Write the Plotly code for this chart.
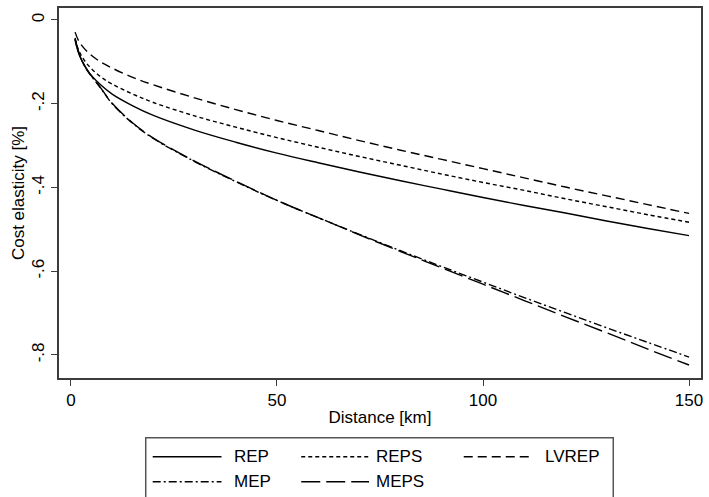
import plotly.graph_objects as go

# ---------------- data ----------------
distance = [1, 2, 4, 7, 10, 15, 20, 30, 40, 50, 60, 70, 80, 90, 100, 110, 120, 130, 140, 150]
rep   = [-0.048, -0.083, -0.121, -0.153, -0.177, -0.205, -0.228, -0.263, -0.292, -0.318,
         -0.341, -0.363, -0.384, -0.404, -0.424, -0.443, -0.461, -0.480, -0.498, -0.515]
reps  = [-0.045, -0.075, -0.106, -0.134, -0.153, -0.177, -0.197, -0.229, -0.256, -0.281,
         -0.304, -0.326, -0.347, -0.368, -0.388, -0.407, -0.427, -0.446, -0.465, -0.483]
lvrep = [-0.029, -0.052, -0.076, -0.099, -0.115, -0.137, -0.155, -0.186, -0.214, -0.240,
         -0.264, -0.288, -0.311, -0.333, -0.355, -0.377, -0.399, -0.420, -0.441, -0.462]
mep   = [-0.045, -0.082, -0.121, -0.160, -0.200, -0.247, -0.283, -0.338, -0.386, -0.431,
         -0.472, -0.512, -0.551, -0.589, -0.626, -0.663, -0.699, -0.735, -0.770, -0.805]
meps  = [-0.043, -0.080, -0.120, -0.159, -0.199, -0.246, -0.282, -0.337, -0.385, -0.431,
         -0.472, -0.513, -0.553, -0.592, -0.631, -0.670, -0.709, -0.747, -0.786, -0.824]

series_names = ["REP", "REPS", "LVREP", "MEP", "MEPS"]
series_vals = [rep, reps, lvrep, mep, meps]
dashes = ["solid", "4px,3px", "9px,5px", "8px,3px,2px,3px", "19px,6px"]

x_ticks = [0, 50, 100, 150]
y_ticks = [0, -0.2, -0.4, -0.6, -0.8]
y_ticktext = ["0", "-.2", "-.4", "-.6", "-.8"]

# ---------------- figure ----------------
W, H = 709, 497
ML, MR, MT, MB = 59, 6, 7, 119
FONT = "Liberation Sans, Arial, Helvetica, sans-serif"
FS = 17
AX = "#3c3c3c"

fig = go.Figure()
for name, vals, d in zip(series_names, series_vals, dashes):
    fig.add_trace(go.Scatter(x=distance, y=vals, mode="lines", name=name,
                             line=dict(color="black", width=1.4, dash=d, shape="spline"),
                             showlegend=False))

fig.update_layout(
    width=W, height=H,
    margin=dict(l=ML, r=MR, t=MT, b=MB),
    paper_bgcolor="white", plot_bgcolor="white",
    font=dict(family=FONT, size=FS, color="black"),
)
fig.update_xaxes(range=[-2.9, 152.9], tickvals=x_ticks, ticks="outside", ticklen=6,
                 tickcolor=AX, tickwidth=1.3,
                 showline=True, linecolor=AX, linewidth=1.6, mirror=True,
                 showgrid=False, zeroline=False,
                 title=dict(text="Distance [km]", standoff=2, font=dict(size=FS)),
                 tickfont=dict(size=FS))
fig.update_yaxes(range=[-0.855, 0.0286], tickvals=y_ticks, ticktext=y_ticktext,
                 tickangle=-90, ticks="outside", ticklen=6,
                 tickcolor=AX, tickwidth=1.3,
                 showline=True, linecolor=AX, linewidth=1.6, mirror=True,
                 showgrid=False, zeroline=False,
                 title=dict(text="Cost elasticity [%]", standoff=0, font=dict(size=FS)),
                 tickfont=dict(size=FS))

# ---------------- manual legend (Stata style) ----------------
pw, ph = W - ML - MR, H - MT - MB
def px(xp):
    return (xp - ML) / pw
def py(yp):
    return (H - MB - yp) / ph

fig.add_shape(type="rect", xref="paper", yref="paper",
              x0=px(146), x1=px(615), y0=py(438), y1=py(505),
              line=dict(color="#555555", width=1.5), fillcolor="white", layer="above")

cols = [(153, 222, 233), (302, 370, 375), (465, 535, 545)]
rows = [457, 482]
for i, (name, d) in enumerate(zip(series_names, dashes)):
    r, c = divmod(i, 3)
    x0, x1, xt = cols[c]
    yy = rows[r]
    fig.add_shape(type="line", xref="paper", yref="paper",
                  x0=px(x0), x1=px(x1), y0=py(yy), y1=py(yy),
                  line=dict(color="black", width=1.4, dash=d), layer="above")
    fig.add_annotation(xref="paper", yref="paper", x=px(xt), y=py(yy),
                       text=name, showarrow=False, xanchor="left", yanchor="middle",
                       font=dict(size=FS, color="black", family=FONT))

fig.write_html("out.html",
               config={"displayModeBar": False},
               post_script="document.body.style.margin='0';document.body.style.overflow='hidden';")
